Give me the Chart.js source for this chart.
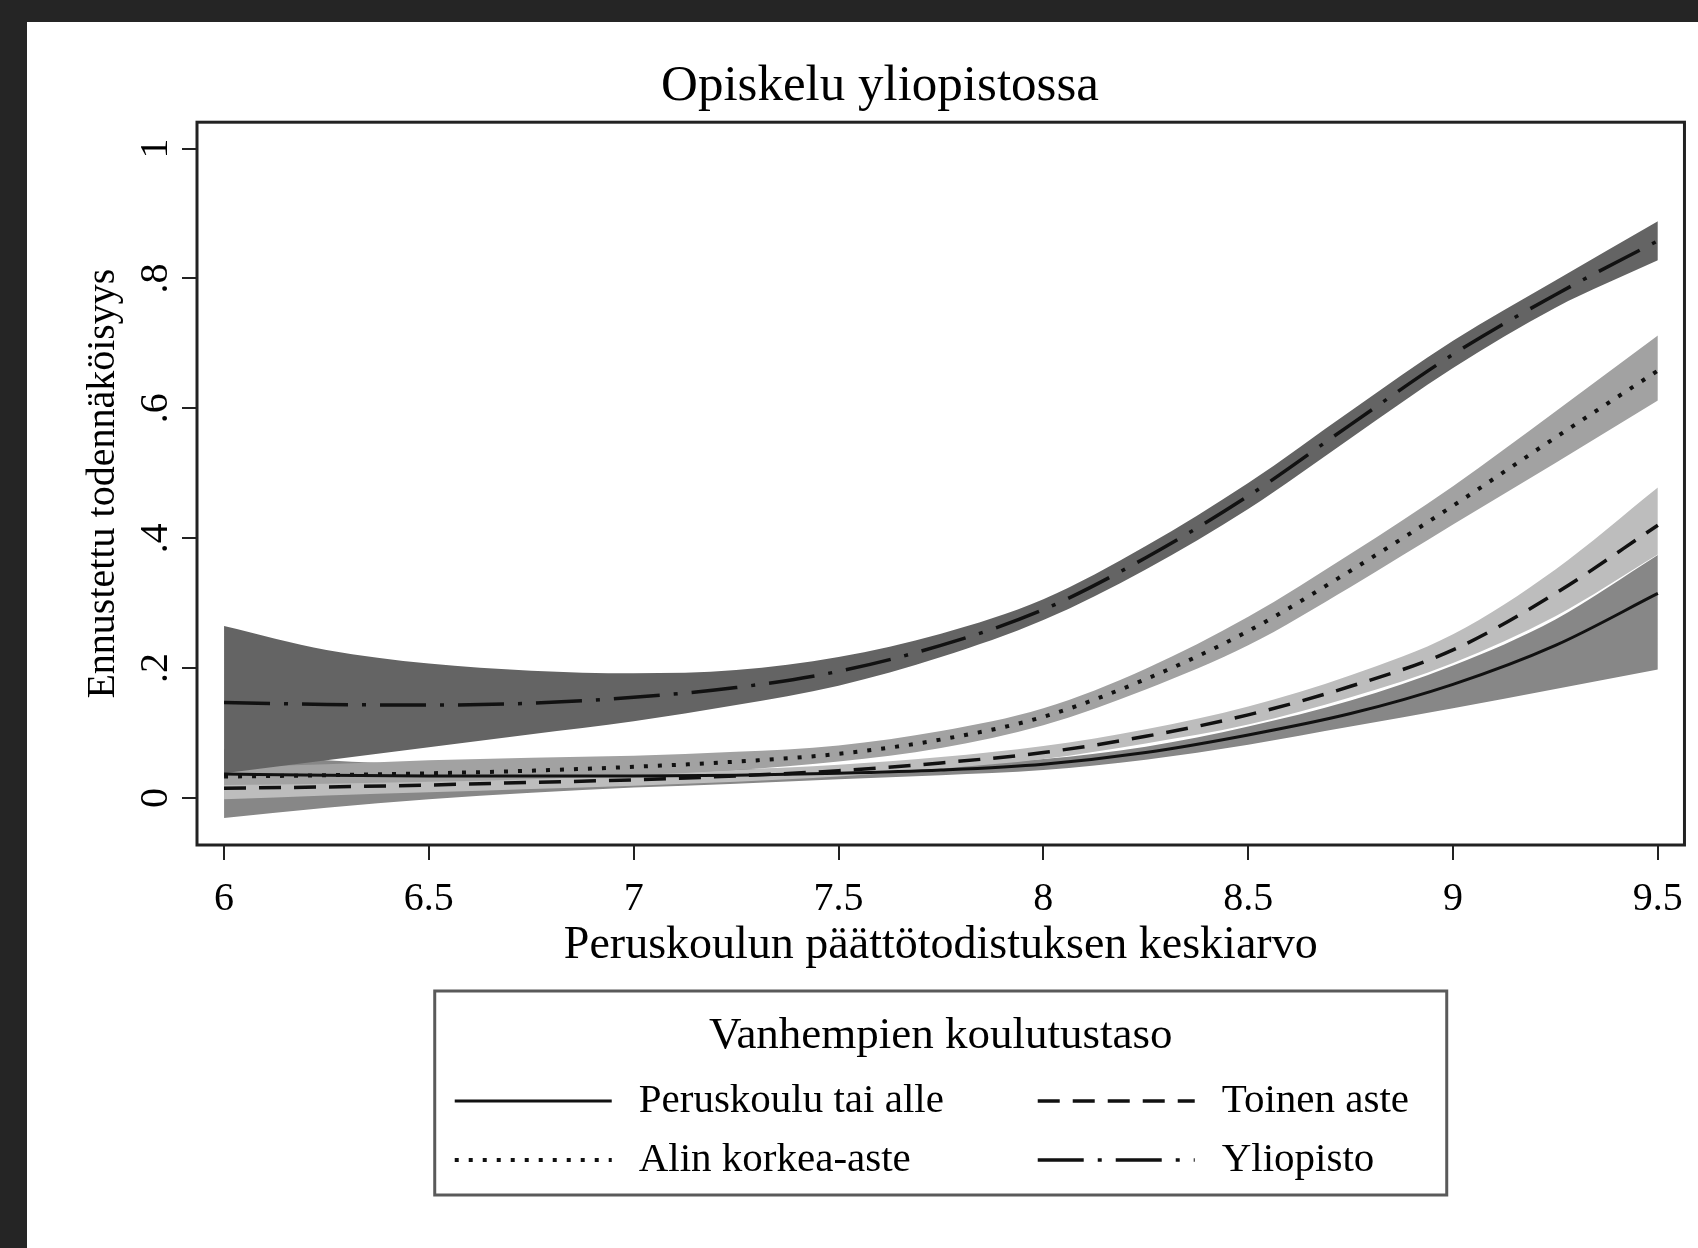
<!DOCTYPE html>
<html lang="fi">
<head>
<meta charset="utf-8">
<title>Opiskelu yliopistossa</title>
<script src="https://cdn.jsdelivr.net/npm/chart.js@4.4.1/dist/chart.umd.min.js"></script>
<style>
  html, body { margin: 0; padding: 0; background: #252525; overflow: hidden; }
  #kehys { position: absolute; left: 27px; top: 22px; width: 1671px; height: 1226px; background: #fff; }
</style>
</head>
<body>
<div id="kehys"><canvas id="kuvio" width="1671" height="1226"></canvas></div>
<script>
// Peruskoulun päättötodistuksen keskiarvo (x)
const keskiarvot = [6, 6.25, 6.5, 6.75, 7, 7.25, 7.5, 7.75, 8, 8.25, 8.5, 8.75, 9, 9.25, 9.5];

const ryhmat = ['Peruskoulu tai alle', 'Toinen aste', 'Alin korkea-aste', 'Yliopisto'];

// Ennustetut todennäköisyydet ja luottamusvälit, luettu kuvasta
const peruskoulu    = [0.037, 0.035, 0.034, 0.034, 0.034, 0.035, 0.038, 0.043, 0.052, 0.070, 0.097, 0.130, 0.175, 0.235, 0.315];
const peruskouluYla = [0.075, 0.058, 0.052, 0.050, 0.047, 0.045, 0.046, 0.051, 0.060, 0.079, 0.110, 0.150, 0.204, 0.275, 0.374];
const peruskouluAla = [-0.031, -0.015, -0.002, 0.008, 0.016, 0.022, 0.029, 0.035, 0.043, 0.059, 0.082, 0.110, 0.138, 0.168, 0.198];

const toinen    = [0.015, 0.017, 0.020, 0.024, 0.028, 0.034, 0.042, 0.054, 0.070, 0.095, 0.128, 0.172, 0.228, 0.315, 0.420];
const toinenYla = [0.032, 0.031, 0.032, 0.034, 0.037, 0.043, 0.051, 0.063, 0.080, 0.106, 0.141, 0.189, 0.252, 0.352, 0.478];
const toinenAla = [-0.002, 0.004, 0.009, 0.014, 0.019, 0.025, 0.033, 0.045, 0.060, 0.084, 0.113, 0.155, 0.208, 0.280, 0.375];

const alin    = [0.033, 0.035, 0.038, 0.042, 0.048, 0.056, 0.068, 0.090, 0.125, 0.183, 0.257, 0.350, 0.450, 0.555, 0.658];
const alinYla = [0.048, 0.052, 0.058, 0.062, 0.065, 0.071, 0.081, 0.103, 0.138, 0.199, 0.279, 0.376, 0.480, 0.595, 0.712];
const alinAla = [0.020, 0.022, 0.025, 0.029, 0.035, 0.043, 0.056, 0.077, 0.112, 0.167, 0.235, 0.325, 0.421, 0.516, 0.612];

const yliopisto    = [0.147, 0.144, 0.143, 0.146, 0.155, 0.170, 0.195, 0.235, 0.290, 0.370, 0.465, 0.575, 0.683, 0.775, 0.858];
const yliopistoYla = [0.265, 0.228, 0.207, 0.196, 0.192, 0.197, 0.217, 0.253, 0.306, 0.388, 0.485, 0.596, 0.704, 0.797, 0.888];
const yliopistoAla = [0.038, 0.058, 0.078, 0.098, 0.118, 0.143, 0.173, 0.217, 0.274, 0.352, 0.445, 0.554, 0.662, 0.755, 0.828];

// Akselien tikit
const xTikit = [6, 6.5, 7, 7.5, 8, 8.5, 9, 9.5];
const xTikkiTekstit = ['6', '6.5', '7', '7.5', '8', '8.5', '9', '9.5'];
const yTikit = [0, 0.2, 0.4, 0.6, 0.8, 1];
const yTikkiTekstit = ['0', '.2', '.4', '.6', '.8', '1'];

const seliteOtsikko = 'Vanhempien koulutustaso';
const FONTTI = '"Liberation Serif", "Times New Roman", serif';

Chart.defaults.font.family = FONTTI;
Chart.defaults.color = '#000';

const pisteet = arvot => keskiarvot.map((x, i) => ({ x, y: arvot[i] }));

function kayra(label, arvot, viiva, paksuus) {
    return {
        label,
        data: pisteet(arvot),
        borderColor: '#111',
        borderWidth: paksuus,
        borderDash: viiva,
        borderCapStyle: 'butt',
        pointRadius: 0,
        fill: false,
        cubicInterpolationMode: 'monotone'
    };
}

// Luottamusväli: alareuna + yläreuna joka täytetään edelliseen
function vyo(ala, yla, vari) {
    const yhteiset = { borderColor: 'rgba(0,0,0,0)', borderWidth: 0, pointRadius: 0, cubicInterpolationMode: 'monotone' };
    return [
        { ...yhteiset, label: '', data: pisteet(ala), fill: false },
        { ...yhteiset, label: '', data: pisteet(yla), fill: '-1', backgroundColor: vari }
    ];
}

// Kehys piirtoalueen ympärille
const kehysPlugin = {
    id: 'kehys',
    afterDatasetsDraw(chart) {
        const { ctx, chartArea: { left, top, right, bottom } } = chart;
        ctx.save();
        ctx.strokeStyle = '#222';
        ctx.lineWidth = 3;
        ctx.strokeRect(left, top, right - left, bottom - top);
        ctx.restore();
    }
};

// Selite laatikkona kuvan alla, kaksi saraketta
const selitePlugin = {
    id: 'selite',
    afterDraw(chart) {
        const { ctx, chartArea } = chart;
        const cx = (chartArea.left + chartArea.right) / 2;
        const x0 = cx - 506;
        const y0 = chart.scales.x.bottom + 16;

        ctx.save();
        ctx.strokeStyle = '#5a5a5a';
        ctx.lineWidth = 3;
        ctx.strokeRect(x0, y0, 1012, 204);

        ctx.fillStyle = '#000';
        ctx.textBaseline = 'middle';
        ctx.textAlign = 'center';
        ctx.font = '45px ' + FONTTI;
        ctx.fillText(seliteOtsikko, cx, y0 + 45);

        ctx.textAlign = 'left';
        ctx.font = '41px ' + FONTTI;
        chart.data.datasets.slice(0, 4).forEach((ds, i) => {
            const sx = x0 + (i % 2 ? 603 : 20);
            const sy = y0 + 110 + Math.floor(i / 2) * 59;
            ctx.strokeStyle = '#111';
            ctx.lineWidth = ds.borderWidth;
            ctx.setLineDash(ds.borderDash || []);
            ctx.beginPath();
            ctx.moveTo(sx, sy);
            ctx.lineTo(sx + 157, sy);
            ctx.stroke();
            ctx.setLineDash([]);
            ctx.fillText(ds.label, sx + 184, sy);
        });
        ctx.restore();
    }
};

new Chart(document.getElementById('kuvio'), {
    type: 'line',
    data: {
        datasets: [
            kayra(ryhmat[0], peruskoulu, [], 3),
            kayra(ryhmat[1], toinen, [22, 13], 3.5),
            kayra(ryhmat[2], alin, [4, 10], 4),
            kayra(ryhmat[3], yliopisto, [46, 14, 4, 14], 3.5),
            ...vyo(yliopistoAla, yliopistoYla, '#646464'),
            ...vyo(alinAla, alinYla, '#a2a2a2'),
            ...vyo(toinenAla, toinenYla, '#bdbdbd'),
            ...vyo(peruskouluAla, peruskouluYla, '#878787')
        ]
    },
    options: {
        responsive: false,
        animation: false,
        devicePixelRatio: 1,
        layout: { padding: { left: 44, right: 9, top: 0, bottom: 273 } },
        plugins: {
            legend: { display: false },
            tooltip: { enabled: false },
            title: {
                display: true,
                text: 'Opiskelu yliopistossa',
                font: { size: 51, weight: 'normal' },
                padding: { top: 34, bottom: 5 }
            }
        },
        scales: {
            x: {
                type: 'linear',
                min: 5.934,
                max: 9.565,
                afterBuildTicks: scale => { scale.ticks = xTikit.map(v => ({ value: v })); },
                afterFit: scale => { scale.height = 130; },
                ticks: {
                    font: { size: 40 },
                    padding: 15,
                    maxRotation: 0,
                    callback: (v, i) => xTikkiTekstit[i]
                },
                grid: { drawOnChartArea: false, drawTicks: true, tickLength: 15, color: '#222', lineWidth: 2 },
                border: { display: false },
                title: {
                    display: true,
                    text: 'Peruskoulun päättötodistuksen keskiarvo',
                    font: { size: 46 },
                    padding: { top: 0, bottom: 1 }
                }
            },
            y: {
                min: -0.0724,
                max: 1.0406,
                afterBuildTicks: scale => { scale.ticks = yTikit.map(v => ({ value: v })); },
                afterFit: scale => { scale.width = 126; },
                ticks: {
                    font: { size: 40 },
                    padding: 11,
                    minRotation: 90,
                    maxRotation: 90,
                    crossAlign: 'center',
                    callback: (v, i) => yTikkiTekstit[i]
                },
                grid: { drawOnChartArea: false, drawTicks: true, tickLength: 15, color: '#222', lineWidth: 2 },
                border: { display: false },
                title: {
                    display: true,
                    text: 'Ennustettu todennäköisyys',
                    font: { size: 40 },
                    padding: { top: 8, bottom: 0 }
                }
            }
        }
    },
    plugins: [kehysPlugin, selitePlugin]
});
</script>
</body>
</html>
